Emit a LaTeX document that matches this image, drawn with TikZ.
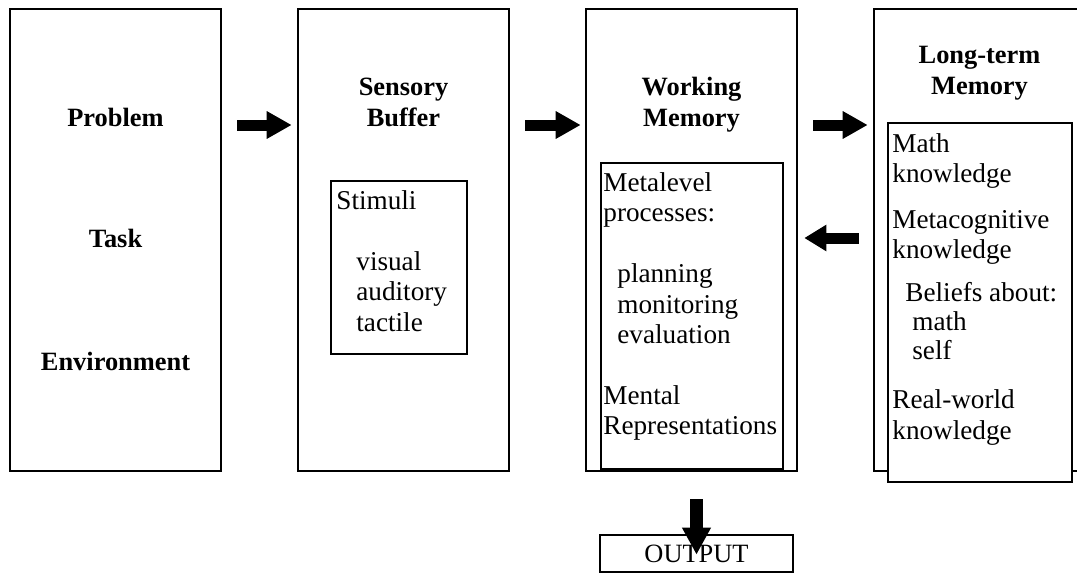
\documentclass[tikz,border=0pt]{standalone}
\usepackage{fontspec}
\setmainfont{Liberation Serif}
\usetikzlibrary{arrows.meta}
\usetikzlibrary{positioning}
\tikzset{
  box/.style={draw, line width=1.3pt, inner sep=0,
    minimum width=105.5pt, minimum height=231pt},
  inbox/.style={draw, line width=1.3pt, inner sep=0},
  title/.style={anchor=base, inner sep=0,
    font=\fontsize{13.2}{15.25}\selectfont\bfseries},
  body/.style={anchor=base west, inner sep=0,
    font=\fontsize{13.6}{15.25}\selectfont},
  fat/.style={line width=5.5pt, -{Triangle[length=12.5pt, width=13pt]}}
}

\begin{document}
\begin{tikzpicture}[x=0.5pt, y=-0.5pt]
  \useasboundingbox (0,0) rectangle (1077,573);
  \clip (0,0) rectangle (1077,573);

  % the four stages
  \node[box] (prob) at (115.5,240) {};
  \node[box] (sens) at (403.5,240) {};
  \node[box] (work) at (691.5,240) {};
  \node[box] (ltm)  at (979.5,240) {};

  \node[title] (probA) at ([yshift=-59.5pt]prob.north) {Problem};
  \node[title] (probB) at ([yshift=-120pt]prob.north) {Task};
  \node[title] (probC) at ([yshift=-181.5pt]prob.north) {Environment};
  \node[title] (sensT) at ([yshift=-44pt]sens.north)
    {\begin{tabular}[t]{@{}c@{}}Sensory\\Buffer\end{tabular}};
  \node[title] (workT) at ([yshift=-44pt]work.north)
    {\begin{tabular}[t]{@{}c@{}}Working\\Memory\end{tabular}};
  \node[title] (ltmT) at ([yshift=-28pt]ltm.north)
    {\begin{tabular}[t]{@{}c@{}}Long-term\\Memory\end{tabular}};

  % inner boxes
  \node[inbox, minimum width=68pt, minimum height=86.5pt] (stim) at (399,267.5) {};
  \node[body] (stimT) at (336,209) {\begin{tabular}[t]{@{}l@{}}
    Stimuli\\ \\
    \hspace{10pt}visual\\
    \hspace{10pt}auditory\\
    \hspace{10pt}tactile
  \end{tabular}};

  \node[inbox, minimum width=91pt, minimum height=153pt] (meta) at (692,316) {};
  \node[body] (metaT) at (603,191) {\begin{tabular}[t]{@{}l@{}}
    Metalevel\\
    processes:\\ \\
    \hspace{7pt}planning\\
    \hspace{7pt}monitoring\\
    \hspace{7pt}evaluation\\ \\
    Mental\\
    Representations
  \end{tabular}};

  \node[inbox, fill=white, minimum width=92pt, minimum height=179.5pt] (know) at (980,302.5) {};
  \node[body] (knowT) at (892,152) {\begin{tabular}[t]{@{}l@{}}
    Math\\
    knowledge\\[7.5pt]
    Metacognitive\\
    knowledge\\[6pt]
    \hspace{6.5pt}Beliefs about:\\[-0.5pt]
    \hspace{10pt}math\\[-0.5pt]
    \hspace{10pt}self\\[9pt]
    Real-world\\
    knowledge
  \end{tabular}};

  \node[inbox, minimum width=96.5pt, minimum height=18.5pt,
    font=\fontsize{13.2}{15.25}\selectfont] (out) at (696.5,553.5) {OUTPUT};

  % flow
  \draw[fat] ([shift={(7.5pt,57.5pt)}]prob.east) -- ([shift={(-2.5pt,57.5pt)}]sens.west);
  \draw[fat] ([shift={(7.5pt,57.5pt)}]sens.east) -- ([shift={(-2pt,57.5pt)}]work.west);
  \draw[fat] ([shift={(7.5pt,57.5pt)}]work.east) -- ([shift={(-2.5pt,57.5pt)}]ltm.west);
  \draw[fat, -{Triangle[length=11pt, width=12.5pt]}]
    ([shift={(-7pt,1pt)}]ltm.west) -- ([shift={(3pt,1pt)}]work.east);
  \draw[fat, line width=6.3pt, -{Triangle[length=13.5pt, width=13.5pt]}]
    ([shift={(2.5pt,-13.5pt)}]work.south) -- ([yshift=-10.5pt]out.north);
\end{tikzpicture}
\end{document}
